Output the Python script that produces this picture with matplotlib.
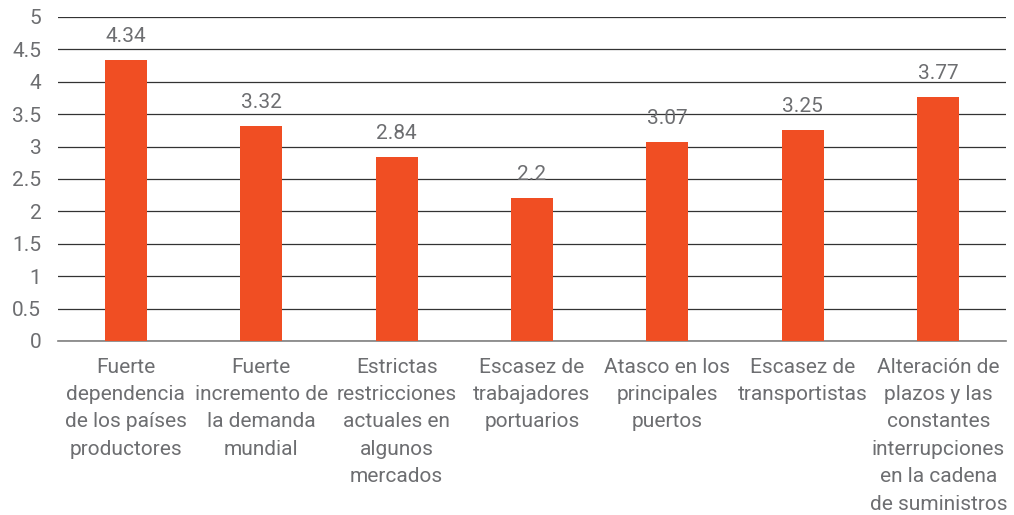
import matplotlib
matplotlib.use("Agg")
import matplotlib.pyplot as plt

categories = [
    "Fuerte\ndependencia\nde los países\nproductores",
    "Fuerte\nincremento de\nla demanda\nmundial",
    "Estrictas\nrestricciones\nactuales en\nalgunos\nmercados",
    "Escasez de\ntrabajadores\nportuarios",
    "Atasco en los\nprincipales\npuertos",
    "Escasez de\ntransportistas",
    "Alteración de\nplazos y las\nconstantes\ninterrupciones\nen la cadena\nde suministros",
]
values = [4.34, 3.32, 2.84, 2.2, 3.07, 3.25, 3.77]
value_labels = ["4.34", "3.32", "2.84", "2.2", "3.07", "3.25", "3.77"]
yticks = [0, 0.5, 1, 1.5, 2, 2.5, 3, 3.5, 4, 4.5, 5]
ytick_labels = ["0", "0.5", "1", "1.5", "2", "2.5", "3", "3.5", "4", "4.5", "5"]

plt.rcParams['font.family'] = ['Roboto', 'DejaVu Sans']
grey = "#6d6e71"
bar_color = "#F04E23"
fs = 15

fig = plt.figure(figsize=(10.14, 5.15), dpi=100)
ax = fig.add_axes([58/1014, 1 - 341/515, (1006-58)/1014, (341-17)/515])

x = list(range(len(values)))
bars = ax.bar(x, values, width=0.31, color=bar_color, zorder=3)
for xi, v, lab in zip(x, values, value_labels):
    ax.annotate(lab, (xi, v), xytext=(0, 14), textcoords="offset pixels",
                ha="center", va="bottom", fontsize=fs, color=grey)

ax.set_xlim(-0.5, len(values) - 0.5)
ax.set_ylim(0, 5)
ax.set_yticks(yticks)
ax.set_yticklabels(ytick_labels, fontsize=fs, color=grey)
ax.set_xticks(x)
ax.set_xticklabels(categories, fontsize=fs, color=grey, linespacing=1.56)
ax.tick_params(axis="both", length=0)
ax.tick_params(axis="y", pad=12)
ax.tick_params(axis="x", pad=12)
ax.yaxis.grid(True, color="#333333", linewidth=0.9, zorder=0)
for s in ["top", "right", "left"]:
    ax.spines[s].set_visible(False)
ax.spines["bottom"].set_color("#808080")
ax.spines["bottom"].set_linewidth(1.2)

fig.savefig("out.png", dpi=100)
